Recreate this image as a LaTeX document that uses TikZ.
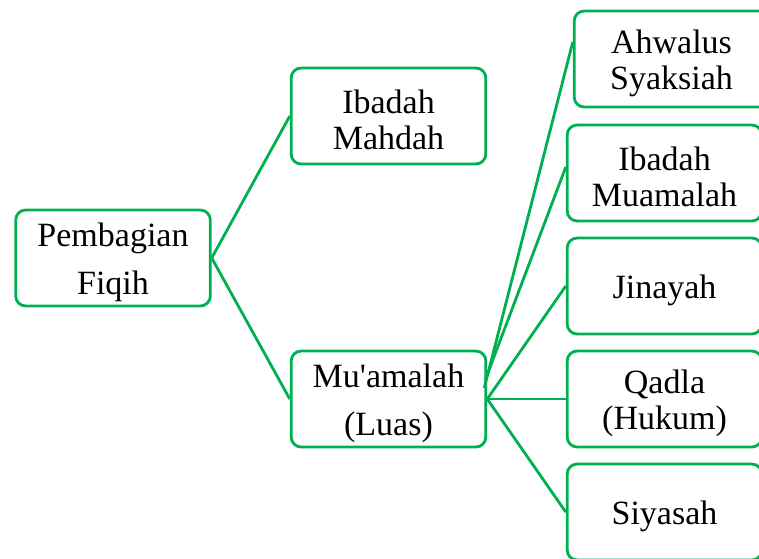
\documentclass[tikz,border=0pt]{standalone}
\usepackage{fontspec}
\setmainfont{Liberation Serif}
\usetikzlibrary{calc}
\definecolor{lgreen}{RGB}{0,176,80}
\newcommand\toplift{\rule{0pt}{24pt}}
\begin{document}
\begin{tikzpicture}[x=0.75pt,y=-0.75pt,
  box/.style={draw=lgreen, line width=2.1pt, rounded corners=7.5pt,
    minimum width=146pt, minimum height=72pt, align=center, inner sep=0pt,
    font=\fontsize{25.5}{27}\selectfont},
  wide/.style={font=\fontsize{25.5}{36.5}\selectfont},
  link/.style={draw=lgreen, line width=2.1pt}]
\useasboundingbox (0,0) rectangle (759,558);
\clip (0,0) rectangle (759,558);
\node[box,wide] (pf) at (113,258) {\toplift Pembagian\\Fiqih};
\node[box] (im) at (388.5,116) {\toplift Ibadah\\Mahdah};
\node[box,wide] (mu) at (388.5,399) {\toplift Mu\textquotesingle amalah\\(Luas)};
\node[box] (as) at (671.5,59) {\toplift Ahwalus\\Syaksiah};
\node[box] (ib) at (664.5,173) {\toplift Ibadah\\Muamalah};
\node[box] (ji) at (664.5,286) {\toplift Jinayah};
\node[box] (qa) at (664.5,399) {\toplift Qadla\\(Hukum)};
\node[box] (si) at (664.5,512) {\toplift Siyasah};
\coordinate (ma) at ($(mu.east)+(-3,-11)$);
\coordinate (mb) at ($(mu.east)+(-2,-19)$);
\coordinate (ta) at ($(as.west)+(0,-17)$);
\coordinate (tb) at ($(ib.west)+(0,-6)$);
\draw[link] (pf.east) -- (im.west);
\draw[link] (pf.east) -- (mu.west);
\draw[link] (ma) -- (ta);
\draw[link] (mb) -- (tb);
\draw[link] (mu.east) -- (ji.west);
\draw[link] (mu.east) -- (qa.west);
\draw[link] (mu.east) -- (si.west);
\end{tikzpicture}
\end{document}
